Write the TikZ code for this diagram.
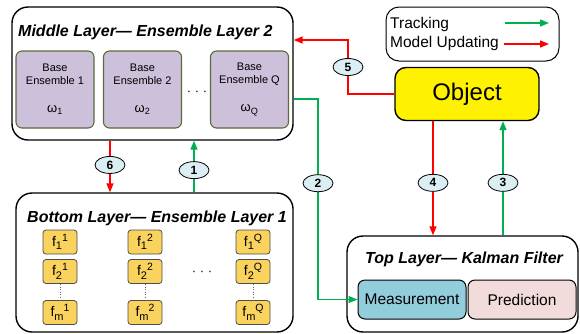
\documentclass[tikz,border=0pt]{standalone}
\usepackage{xcolor}
\usepackage{fontspec}
\setmainfont{Liberation Sans}
\usepackage{tikz}
\usetikzlibrary{arrows.meta,shapes.geometric}
\definecolor{trackgreen}{HTML}{00B050}
\definecolor{updred}{HTML}{FF0000}
\definecolor{baselilac}{HTML}{CCC0DA}
\definecolor{baseedge}{HTML}{5A6B3C}
\definecolor{fgold}{HTML}{FAD25E}
\definecolor{measblue}{HTML}{92CDDC}
\definecolor{predpink}{HTML}{F2DCDB}
\definecolor{numblue}{HTML}{DAEEF3}
\newcommand{\fclass}[2]{f\raisebox{-3.5pt}{\fontsize{11}{12}\selectfont #1}\raisebox{5pt}{\fontsize{10.5}{12}\selectfont #2}}

\begin{document}
\begin{tikzpicture}[x=1pt,y=-1pt,
    layer/.style={draw,line width=1.4pt,rounded corners=16pt,inner sep=0pt},
    ltitle/.style={font=\fontsize{16}{18}\selectfont\bfseries\itshape,anchor=west,inner sep=0pt},
    basebox/.style={draw=baseedge,fill=baselilac,line width=1.1pt,rounded corners=6pt,
        minimum width=78pt,minimum height=77pt,inner sep=0pt,align=center,
        font=\fontsize{11}{13}\selectfont},
    fbox/.style={draw=black!70,fill=fgold,line width=0.8pt,rounded corners=3pt,
        minimum width=34pt,minimum height=24pt,inner sep=0pt,font=\fontsize{14}{15}\selectfont},
    kfbox/.style={draw,line width=1pt,rounded corners=7pt,minimum width=108pt,
        minimum height=39pt,inner sep=0pt,font=\fontsize{15.5}{18}\selectfont},
    num/.style={ellipse,draw=black,text=black,fill=numblue,line width=0.8pt,minimum width=30pt,
        minimum height=17pt,inner sep=0pt,font=\fontsize{12}{13}\selectfont\bfseries},
    trk/.style={trackgreen,line width=1.4pt,-{Triangle[length=9pt,width=7pt]}},
    upd/.style={updred,line width=1.4pt,-{Triangle[length=9pt,width=7pt]}},
    hdots/.style={font=\fontsize{13}{14}\selectfont,inner sep=0pt},
    vdots/.style={dotted,line width=0.6pt,black!60}]
             \useasboundingbox (0,0) rectangle (580,333);

             \node[layer,minimum width=281pt,minimum height=133pt] (mid) at (152.5,73.5) {};
             \node[ltitle] (midt) at (18,32) {Middle Layer— Ensemble Layer 2};
             \node[basebox] (be1) at (55,89.5) {Base\\Ensemble 1\\[15pt]{\fontsize{13}{14}\selectfont ω\textsubscript{1}}};
             \node[basebox] (be2) at (142.5,89.5) {Base\\Ensemble 2\\[15pt]{\fontsize{13}{14}\selectfont ω\textsubscript{2}}};
             \node[basebox] (beq) at (249.5,89.5) {Base\\Ensemble Q\\[15pt]{\fontsize{13}{14}\selectfont ω\textsubscript{Q}}};
             \node[hdots] (bedots) at (197,93) {· · ·};

             \node[layer,minimum width=277pt,minimum height=139pt] (bot) at (154.5,262.5) {};
             \node[ltitle] (bott) at (27,218) {Bottom Layer— Ensemble Layer 1};
             \node[fbox] (f11) at (60,242) {\fclass{1}{1}};
             \node[fbox] (f21) at (60,271.5) {\fclass{2}{1}};
             \node[fbox] (fm1) at (60,312.5) {\fclass{m}{1}};
             \node[fbox] (f12) at (145,242) {\fclass{1}{2}};
             \node[fbox] (f22) at (145,271.5) {\fclass{2}{2}};
             \node[fbox] (fm2) at (145,312.5) {\fclass{m}{2}};
             \node[fbox] (f1q) at (253,242) {\fclass{1}{Q}};
             \node[fbox] (f2q) at (253,271.5) {\fclass{2}{Q}};
             \node[fbox] (fmq) at (253,312.5) {\fclass{m}{Q}};
             \draw[vdots] (f21.south) -- (fm1.north);
             \draw[vdots] (f22.south) -- (fm2.north);
             \draw[vdots] (f2q.south) -- (fmq.north);
             \node[hdots] (fdots) at (202,273) {· · ·};

             \node[layer,minimum width=231pt,minimum height=96pt] (top) at (462.5,284) {};
             \node[ltitle] (topt) at (365,259) {Top Layer— Kalman Filter};
             \node[kfbox,fill=measblue] (meas) at (412,299.5) {Measurement};
             \node[kfbox,fill=predpink] (pred) at (522,299.5) {Prediction};

             \node[draw,fill=yellow,line width=1.4pt,rounded corners=11pt,minimum width=144pt,
                 minimum height=53pt,font=\fontsize{24}{28}\selectfont] (obj) at (467,94) {Object};

             \node[draw,line width=1pt,rounded corners=13pt,minimum width=173pt,minimum height=54pt] (leg) at (472.5,34) {};
             \node[anchor=west,inner sep=0pt,font=\fontsize{15.5}{17}\selectfont] (legt) at (390,24) {Tracking};
             \node[anchor=west,inner sep=0pt,font=\fontsize{15.5}{17}\selectfont] (legu) at (390,43) {Model Updating};
             \coordinate (lt1) at (505,23);
             \coordinate (lt2) at (549,23);
             \coordinate (lu1) at (504,44);
             \coordinate (lu2) at (549,44);
             \draw[trk] (lt1) -- (lt2);
             \draw[upd] (lu1) -- (lu2);

             \coordinate (c1) at (194,0);
             \coordinate (c6) at (110,0);
             \coordinate (c4) at (433,0);
             \coordinate (c3) at (503,0);
             \coordinate (c5) at (348,40);
             \coordinate (c2) at (318,99);

             \draw[trk] (bot.north -| c1) -- node[num,pos=0.43] {1} (mid.south -| c1);
             \draw[upd] (mid.south -| c6) -- node[num,pos=0.47] {6} (bot.north -| c6);
             \draw[trk] (c2 -| mid.east) -- (c2) |- node[num,pos=0.21] {2} (meas.west);
             \draw[trk] (top.north -| c3) -- node[num,pos=0.46] {3} (obj.south -| c3);
             \draw[upd] (obj.south -| c4) -- node[num,pos=0.54] {4} (top.north -| c4);
             \draw[upd] (obj.west) -| (c5) -- (c5 -| mid.east);
             \node[num] (n5) at (c5 |- 0,67) {5};
             \end{tikzpicture}
\end{document}
